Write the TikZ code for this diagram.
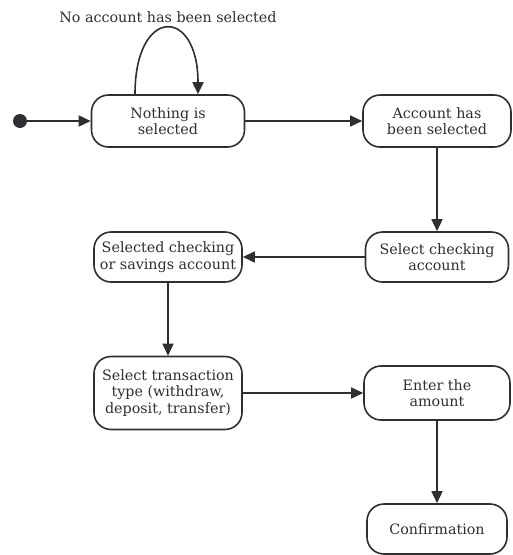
\documentclass[tikz,border=0pt]{standalone}
\usepackage{fontspec}
\setmainfont{DejaVu Serif}
\usetikzlibrary{positioning,arrows.meta}
\definecolor{linecolor}{rgb}{0.18, 0.18, 0.2}

\begin{document}
\begin{tikzpicture}[node distance=269pt,
    state/.style={rectangle, draw=linecolor, line width=1.6pt, rounded corners=17pt, align=center, text=linecolor, minimum width=148pt, minimum height=52pt, inner sep=2pt, font=\fontsize{14.3}{16.5}\selectfont},
    arr/.style={-{Triangle[length=12pt,width=11pt]}, draw=linecolor, line width=1.6pt}]
    \useasboundingbox (0,0) rectangle (513pt,-555pt);
    % Nodes
    \node (nothing) [state, minimum width=153pt] at (168pt,-121pt) {Nothing is\\selected};
    \node (start) [circle, fill=linecolor, minimum size=14pt, inner sep=0pt, left of=nothing, node distance=148pt] {};
    \node (loopnote) [above of=nothing, node distance=104pt, text=linecolor, font=\fontsize{14.3}{16.5}\selectfont] {No account has been selected};
    \node (account) [state, right of=nothing] {Account has\\been selected};
    \node (checking) [state, below of=account, node distance=136pt, minimum width=143pt, minimum height=50pt] {Select checking\\account};
    \node (selected) [state, left of=checking, minimum height=50pt] {Selected checking\\or savings account};
    \node (transaction) [state, below of=selected, node distance=136pt, minimum height=73pt] {Select transaction\\type (withdraw,\\deposit, transfer)};
    \node (amount) [state, right of=transaction, minimum width=146pt, minimum height=54pt] {Enter the\\amount};
    \node (confirm) [state, below of=amount, node distance=136pt, minimum width=140pt, minimum height=50pt] {Confirmation};
    % Arrows
    \draw [arr] (start) -- (nothing);
    \draw [arr] ([xshift=-33pt]nothing.north) .. controls +(0,88pt) and +(0,88pt) .. ([xshift=30pt]nothing.north);
    \draw [arr] (nothing) -- (account);
    \draw [arr] (account) -- (checking);
    \draw [arr] (checking) -- (selected);
    \draw [arr] (selected) -- (transaction);
    \draw [arr] (transaction) -- (amount);
    \draw [arr] (amount) -- (confirm);
\end{tikzpicture}
\end{document}
